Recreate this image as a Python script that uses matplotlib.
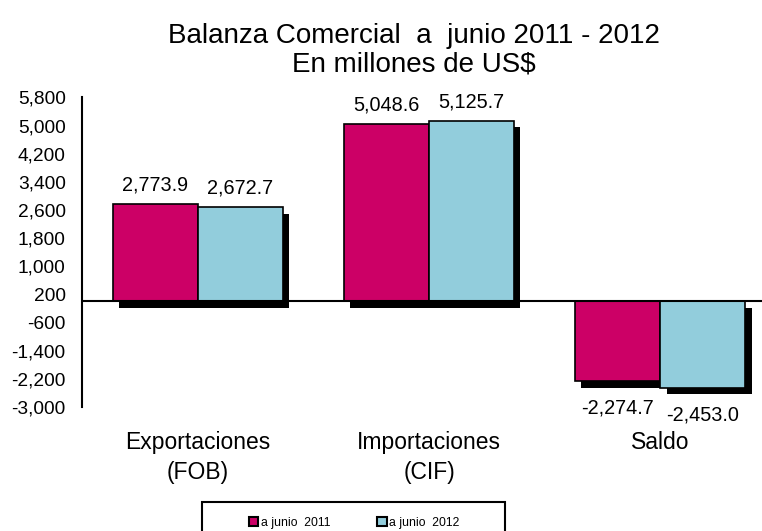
import matplotlib
matplotlib.use("Agg")
import matplotlib.pyplot as plt
import matplotlib.patheffects as pe
from matplotlib.patches import Patch, Rectangle
import numpy as np

plt.rcParams['font.family'] = ['Liberation Sans', 'DejaVu Sans']

# data
categories = ["Exportaciones\n(FOB)", "Importaciones\n(CIF)", "Saldo"]
jun_2011 = [2773.9, 5048.6, -2274.7]
jun_2012 = [2672.7, 5125.7, -2453.0]
series_names = ["a junio  2011", "a junio  2012"]
yticks = [5800, 5000, 4200, 3400, 2600, 1800, 1000, 200, -600, -1400, -2200, -3000]

red = "#CC0066"
blue = "#92CDDC"

fig = plt.figure(figsize=(7.62, 5.31), dpi=100)
ax = fig.add_axes([0.108, 0.2335, 0.892, 0.583])

x = np.arange(len(categories))
w = 0.368
shadow = [pe.SimplePatchShadow(offset=(4.5, -4.5), shadow_rgbFace="black", alpha=1.0), pe.Normal()]

b1 = ax.bar(x - w / 2, jun_2011, w, color=red, edgecolor="black", linewidth=1.2, zorder=3)
b2 = ax.bar(x + w / 2, jun_2012, w, color=blue, edgecolor="black", linewidth=1.2, zorder=3)
for b in list(b1) + list(b2):
    b.set_path_effects(shadow)

# data labels
for xs, vals in ((x - w / 2, jun_2011), (x + w / 2, jun_2012)):
    for xi, v in zip(xs, vals):
        off = 7 if v > 0 else -12.5
        ax.annotate(f"{v:,.1f}", (xi, v), xytext=(0, off), textcoords="offset points",
                    ha="center", va="bottom" if v > 0 else "top", fontsize=14.3)

ax.set_ylim(-3000, 5800)
ax.set_xlim(-0.5, 2.44)
ax.set_yticks(yticks)
ax.set_yticklabels([f"{t:,}" for t in yticks])
ax.tick_params(axis="y", length=0, labelsize=13.8, pad=12)
ax.set_xticks(x)
ax.set_xticklabels(categories, fontsize=16.5, linespacing=1.4)
ax.tick_params(axis="x", length=0, pad=17)

for s in ("top", "right", "bottom"):
    ax.spines[s].set_visible(False)
ax.spines["left"].set_linewidth(1.5)
ax.axhline(0, color="black", linewidth=1.5, zorder=4)

fig.text(0.543, 0.933, "Balanza Comercial  a  junio 2011 - 2012", ha="center", va="center", fontsize=20)
fig.text(0.543, 0.878, "En millones de US$", ha="center", va="center", fontsize=20)

# legend: box drawn separately so it runs off the bottom edge as in the reference
handles = [Patch(facecolor=red, edgecolor="black", linewidth=1.5),
           Patch(facecolor=blue, edgecolor="black", linewidth=1.5)]
fig.legend(handles=handles, labels=series_names, loc="center",
           bbox_to_anchor=(354 / 762, 1 - 523 / 531), ncol=2, fontsize=8.8, frameon=False,
           handlelength=0.8, handleheight=0.8, handletextpad=0.2, columnspacing=3.8)
fig.patches.append(Rectangle((202 / 762, -0.05), 303 / 762, 0.05 + 29 / 531,
                             transform=fig.transFigure, fill=False, edgecolor="black",
                             linewidth=1.5))

fig.savefig("out.png", dpi=100)
